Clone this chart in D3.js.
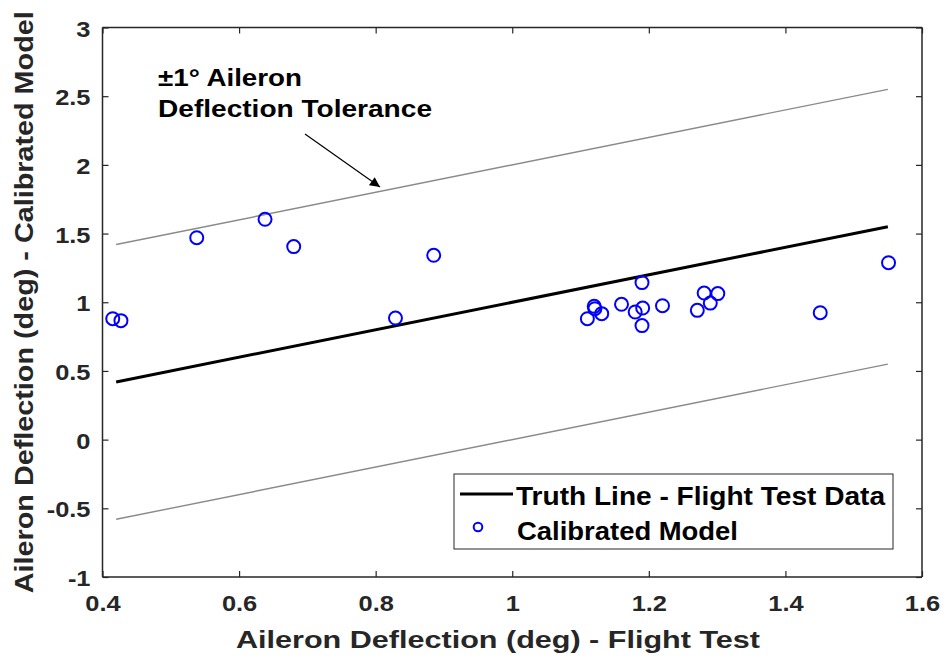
<!DOCTYPE html>
<html><head><meta charset="utf-8">
<script src="https://cdn.jsdelivr.net/npm/d3@7"></script>
<style>body{margin:0;background:#fff}svg{display:block;font-family:"Liberation Sans",Arial,sans-serif}</style>
</head><body><svg id="c" width="946" height="659"></svg>
<script>
const xTicks = [0.4,0.6,0.8,1,1.2,1.4,1.6];
const yTicks = [-1,-0.5,0,0.5,1,1.5,2,2.5,3];
const xTest = [0.415,0.427,0.538,0.638,0.680,0.829,0.885,1.110,1.120,1.121,1.131,1.160,1.180,1.191,1.190,1.190,1.220,1.271,1.281,1.290,1.301,1.451,1.551];
const yModel = [0.880,0.866,1.470,1.604,1.405,0.885,1.342,0.880,0.970,0.953,0.917,0.985,0.929,0.958,1.143,0.830,0.975,0.941,1.067,0.994,1.063,0.924,1.288];
const truthX = [0.42,1.55];
const truthY = [0.42,1.55];
const tolerance = 1;
const xTitle = "Aileron Deflection (deg) - Flight Test";
const yTitle = "Aileron Deflection (deg) - Calibrated Model";
const legendLabels = ["Truth Line - Flight Test Data","Calibrated Model"];
const annotLines = ["\u00b11\u00b0 Aileron","Deflection Tolerance"];

const svg = d3.select("#c");
const L=102.5,R=922,T=27.5,B=577;
const x = d3.scaleLinear().domain([0.4,1.6]).range([L,R]);
const y = d3.scaleLinear().domain([-1,3]).range([B,T]);
const axisCol="#262626";
const tick=6;
const fmt = d=>String(d);

// tolerance lines
const line = d3.line().x(d=>x(d[0])).y(d=>y(d[1]));
[tolerance,-tolerance].forEach(o=>{
  svg.append("path").attr("d",line(truthX.map((v,i)=>[v,truthY[i]+o])))
    .attr("stroke","#8a8a8a").attr("stroke-width",1.4).attr("fill","none");
});
svg.append("path").attr("d",line(truthX.map((v,i)=>[v,truthY[i]])))
  .attr("stroke","#000").attr("stroke-width",3).attr("fill","none");

// points
svg.append("g").selectAll("circle").data(xTest.map((v,i)=>[v,yModel[i]])).join("circle")
  .attr("cx",d=>x(d[0])).attr("cy",d=>y(d[1])).attr("r",6.5)
  .attr("fill","none").attr("stroke","#0000ff").attr("stroke-width",2);

// axes
const gB = svg.append("g").attr("transform",`translate(0,${B})`).call(d3.axisBottom(x).tickValues(xTicks).tickSize(-tick).tickFormat(fmt));
const gT = svg.append("g").attr("transform",`translate(0,${T})`).call(d3.axisTop(x).tickValues(xTicks).tickSize(-tick).tickFormat(""));
const gL = svg.append("g").attr("transform",`translate(${L},0)`).call(d3.axisLeft(y).tickValues(yTicks).tickSize(-tick).tickPadding(12).tickFormat(fmt));
const gR = svg.append("g").attr("transform",`translate(${R},0)`).call(d3.axisRight(y).tickValues(yTicks).tickSize(-tick).tickFormat(""));
[gB,gT,gL,gR].forEach(g=>{
  g.select(".domain").attr("stroke",axisCol).attr("stroke-width",1.5);
  g.selectAll(".tick line").attr("stroke",axisCol).attr("stroke-width",1.2);
  g.selectAll(".tick text").attr("fill",axisCol).attr("font-size",22.5).attr("font-weight","bold")
    .attr("font-family","'Liberation Sans',Arial,sans-serif");
});
gB.selectAll(".tick text").attr("dy","0").attr("y",34);
gL.selectAll(".tick text").attr("dy","0.38em");
[gB,gL].forEach(g=>g.selectAll(".tick text").each(function(){
  const n=this.getComputedTextLength();
  d3.select(this).attr("textLength",n*1.13).attr("lengthAdjust","spacingAndGlyphs");
}));
gB.select(".domain").attr("d",`M${L},0H${R}`);
gT.select(".domain").attr("d",`M${L},0H${R}`);
gL.select(".domain").attr("d",`M0,${T}V${B}`);
gR.select(".domain").attr("d",`M0,${T}V${B}`);

// titles
svg.append("text").attr("x",498).attr("y",648).attr("text-anchor","middle")
  .attr("font-size",24).attr("font-weight","bold").attr("fill",axisCol)
  .attr("textLength",524).attr("lengthAdjust","spacingAndGlyphs").text(xTitle);
svg.append("text").attr("transform",`translate(33,${(T+B)/2}) rotate(-90)`).attr("text-anchor","middle")
  .attr("font-size",25).attr("font-weight","bold").attr("fill",axisCol)
  .attr("textLength",582).attr("lengthAdjust","spacingAndGlyphs").text(yTitle);

// annotation
svg.append("text").attr("x",158).attr("y",86).attr("font-size",23).attr("font-weight","bold").attr("fill","#000")
  .attr("textLength",144).attr("lengthAdjust","spacingAndGlyphs").text(annotLines[0]);
svg.append("text").attr("x",158).attr("y",117).attr("font-size",23).attr("font-weight","bold").attr("fill","#000")
  .attr("textLength",274).attr("lengthAdjust","spacingAndGlyphs").text(annotLines[1]);
svg.append("defs").append("marker").attr("id","ah").attr("viewBox","0 0 10 10").attr("refX",10).attr("refY",5)
  .attr("markerWidth",14).attr("markerHeight",10).attr("markerUnits","userSpaceOnUse").attr("orient","auto")
  .append("path").attr("d","M0,0L10,5L0,10Z").attr("fill","#000");
svg.append("line").attr("x1",305).attr("y1",134).attr("x2",380).attr("y2",187)
  .attr("stroke","#000").attr("stroke-width",1.2).attr("marker-end","url(#ah)");

// legend
const lg = svg.append("g");
lg.append("rect").attr("x",454).attr("y",474).attr("width",439).attr("height",75)
  .attr("fill","#fff").attr("stroke","#262626").attr("stroke-width",1);
lg.append("line").attr("x1",460).attr("x2",513).attr("y1",494).attr("y2",494).attr("stroke","#000").attr("stroke-width",3);
lg.append("circle").attr("cx",478).attr("cy",527).attr("r",4.3).attr("fill","none").attr("stroke","#0000ff").attr("stroke-width",2);
lg.append("text").attr("x",516).attr("y",505).attr("font-size",25).attr("font-weight","bold").attr("fill","#000")
  .attr("textLength",369).attr("lengthAdjust","spacingAndGlyphs").text(legendLabels[0]);
lg.append("text").attr("x",517).attr("y",540).attr("font-size",25).attr("font-weight","bold").attr("fill","#000")
  .attr("textLength",221).attr("lengthAdjust","spacingAndGlyphs").text(legendLabels[1]);
</script></body></html>
